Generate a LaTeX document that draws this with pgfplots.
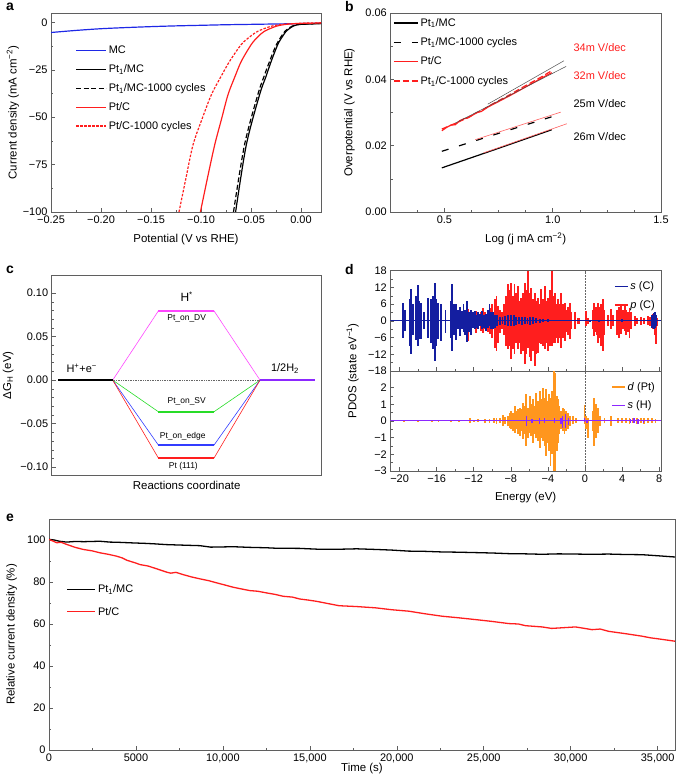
\documentclass[border=0pt]{standalone}
\usepackage{fontspec}
\setmainfont{Liberation Sans}
\setsansfont{Liberation Sans}
\usepackage{pgfplots}
\pgfplotsset{compat=1.18}
\usepackage{pgfplotstable}

\definecolor{mcblue}{RGB}{30,40,230}
\definecolor{ptred}{RGB}{255,30,30}
\definecolor{dvpink}{RGB}{255,70,255}
\definecolor{svgreen}{RGB}{40,220,40}
\definecolor{edgeblue}{RGB}{50,60,255}
\definecolor{hpurple}{RGB}{140,40,255}
\definecolor{scnavy}{RGB}{20,30,160}
\definecolor{dorange}{RGB}{255,150,30}
\definecolor{framegray}{RGB}{95,95,95}

% PDOS spikes, x = energy (eV), up / dn = spin up / spin down
\pgfplotstableread{
x up dn
-19.6 6.3 -6.0
-19.4 4 -3.5
-18.9 8 -9
-18.77 11.3 -12
-18.6 6 -5
-18.2 9 -7
-18.06 12.7 -9
-17.9 7 -6.6
-17.7 6.5 -6.6
-17.34 3 -3
-16.9 8.3 -6
-16.6 7.7 -7.8
-16.35 9 -10
-16.2 13.7 -14.4
-16.05 8 -9
-15.9 6.5 -6.6
-15.5 5.9 -7.2
-15.05 4 -4.2
-14.5 7 -6
-14.3 13.3 -11
-14.15 6 -5
-13.9 6 -7
-13.7 4 -3
-13.5 5 -5.5
-13.3 3.5 -3
-13.1 6 -4
-12.9 4 -5
-12.7 7 -7.5
-12.5 3 -4
-12.3 4 -5
-12.1 3 -2.5
-11.9 3.5 -3
-11.7 2 -2.5
-11.5 3 -3
-11.3 2.5 -2
-11.1 3.5 -3
-10.9 2 -2.5
-10.7 2.5 -3.5
-10.5 4 -2.5
-10.3 6 -2
-10.1 3 -3
-9.9 3 -3
-9.7 2 -2.5
-9.5 2 -2
-9.2 1.5 -1.5
-8.9 1.5 -1.2
-8.6 1.8 -1.5
-8.3 2 -2
-8.0 2 -2
-7.7 2.2 -1.8
-7.4 1.5 -1.5
-7.1 1.2 -1.2
-6.8 1.5 -1.5
-6.5 1.2 -1.0
-6.2 1.0 -1.2
-5.9 1.5 -1.5
-5.6 1.5 -1.2
-5.3 1.0 -0.8
-4.9 0.8 -0.6
-4.5 0.6 -0.5
-4.0 0.5 -0.5
0.5 0.4 -0.4
1.5 0.4 -0.4
4.0 0.5 -0.5
7.25 2 -2.5
7.4 2.8 -3
7.55 3 -2.5
7.7 2.2 -2
}\sCtab

\pgfplotstableread{
x up dn
-12.8 2 -3
-12.6 4.1 -7.2
-12.4 2.5 -3
-12.1 3 -2.5
-11.8 3.5 -4.2
-11.5 2.5 -3
-11.2 3 -3.5
-11.0 4.7 -4.2
-10.75 3 -3
-10.5 3.5 -4
-10.27 4.7 -4.8
-10.0 6 -6
-9.73 7.7 -9.6
-9.55 9 -11
-9.37 5.3 -7.8
-9.15 4 -4.5
-8.95 3 -3
-8.75 6 -5
-8.5 9 -9
-8.3 13.1 -10.2
-8.1 11 -9
-7.95 13.7 -13.8
-7.75 9 -10
-7.6 13.1 -12
-7.4 10 -8
-7.2 12.5 -10.2
-7.05 7 -8
-6.86 8.3 -12
-6.68 10 -11
-6.5 13.7 -15.6
-6.32 11 -12
-6.15 17.9 -9.6
-5.98 10 -13
-5.8 11.9 -14.4
-5.62 8 -11
-5.43 10.1 -16.2
-5.25 7 -12
-5.08 8.3 -11.4
-4.9 6 -8
-4.7 11.3 -8.4
-4.52 8 -9
-4.35 12.5 -10.2
-4.18 7 -8
-4.0 8.3 -10.8
-3.8 11 -9
-3.57 17.9 -9
-3.42 9 -8
-3.28 10.1 -7.8
-3.1 6 -6
-2.92 7.7 -7.8
-2.75 6 -6
-2.56 10.1 -9.6
-2.38 6 -6
-2.2 6.5 -7.2
-2.0 4 -4
-1.85 5 -5
-1.66 6.5 -6.6
-1.45 3 -3
-1.12 3 -3
-0.8 1 -1
-0.6 1 -1
0.13 3.5 -1.9
0.3 1 -1
0.85 4 -3
1.0 6.5 -5.4
1.15 5 -4
1.3 4 -5
1.45 6.5 -7.8
1.6 5 -6
1.75 6 -9
1.9 7.7 -11
2.05 4 -5
2.45 2 -2
2.8 4.1 -3
3.0 2 -2
3.5 4 -5
3.7 5 -6
3.9 5.3 -4.8
4.1 4 -3
4.27 5.9 -3.6
4.45 4 -5
4.6 3 -4
4.8 4.7 -6
5.0 3 -3
5.35 1.7 -1.9
5.6 1 -1
6.07 1.5 -1.5
6.4 1 -1
6.8 1.7 -1.5
7.0 1.5 -2
7.3 2.3 -3
7.5 2 -5
7.67 1.5 -8.4
7.8 1 -2
}\pCtab

\pgfplotstableread{
x up dn
-19.5 0.05 -0.05
-18.0 0.06 -0.05
-16.5 0.05 -0.05
-15.8 0.06 -0.06
-14.5 0.05 -0.05
-13.6 0.08 -0.06
-12.43 0.2 -0.14
-12.0 0.08 -0.08
-11.5 0.1 -0.08
-10.8 0.1 -0.1
-10.3 0.12 -0.1
-9.8 0.15 -0.15
-9.55 0.2 -0.2
-9.2 0.15 -0.15
-8.83 0.34 -0.3
-8.6 0.25 -0.2
-8.3 0.3 -0.3
-8.1 0.45 -0.4
-7.94 0.6 -0.5
-7.76 0.5 -0.6
-7.58 0.9 -0.7
-7.4 0.6 -0.5
-7.22 0.7 -0.8
-7.04 0.8 -0.9
-6.86 0.7 -0.6
-6.68 1.1 -1.1
-6.5 0.9 -0.8
-6.33 1.6 -1.5
-6.15 0.8 -1.0
-5.97 1.5 -0.7
-5.79 1.0 -0.9
-5.61 1.3 -1.3
-5.43 0.9 -0.8
-5.25 1.7 -1.0
-5.07 1.2 -1.2
-4.9 1.8 -1.6
-4.72 1.3 -1.0
-4.54 2.0 -1.2
-4.36 1.4 -1.5
-4.18 1.9 -2.1
-4.0 1.2 -1.3
-3.85 1.6 -1.8
-3.72 1.4 -2.7
-3.55 1.8 -2.0
-3.39 3.0 -3.0
-3.21 2.9 -3.0
-3.05 1.5 -1.8
-2.92 1.3 -1.3
-2.75 0.9 -0.8
-2.57 0.6 -0.5
-2.4 0.8 -0.6
-2.21 0.7 -0.8
-2.03 0.6 -0.6
-1.85 0.5 -0.5
-1.6 0.3 -0.3
-1.31 0.3 -0.2
-1.0 0.15 -0.1
-0.05 0.94 -0.2
0.12 0.3 -0.5
0.3 0.2 -1.0
0.85 0.6 -0.6
1.0 1.4 -1.5
1.15 1.0 -1.0
1.3 0.6 -0.5
1.45 0.8 -0.7
1.6 0.3 -0.3
2.1 0.15 -0.15
2.8 0.3 -0.3
3.6 0.15 -0.12
4.0 0.2 -0.15
4.4 0.15 -0.15
4.8 0.2 -0.2
5.2 0.2 -0.15
5.6 0.2 -0.2
6.0 0.15 -0.15
6.4 0.2 -0.2
6.8 0.15 -0.15
7.2 0.15 -0.12
7.6 0.1 -0.1
}\dPttab

\pgfplotstableread{
x up dn
-6.3 0.3 -0.3
-5.7 0.1 -0.1
-4.9 0.2 -0.2
-4.4 0.15 -0.15
-3.3 0.15 -0.15
-2.6 0.2 -0.2
-2.4 0.3 -0.4
-2.1 0.4 -0.4
-1.8 0.2 -0.25
-0.05 0.15 -0.05
0.2 0.05 -0.15
4.9 0.1 -0.1
5.3 0.15 -0.1
5.7 0.1 -0.2
6.3 0.05 -0.1
}\sHtab

\pgfplotsset{
  every axis/.append style={
    scale only axis,
    axis line style={framegray, line width=0.6pt},
    tick style={framegray, line width=0.5pt},
    major tick length=4bp, minor tick length=2.2bp,
    tick align=inside, tick pos=left,
    scaled ticks=false,
    tick label style={font=\fontsize{11}{13}\selectfont},
    label style={font=\fontsize{11.5}{13}\selectfont},
    legend cell align=left,
    legend image post style={line width=1.3pt},
    legend style={draw=none, fill=none, inner sep=0pt,
      font=\fontsize{11}{13}\selectfont},
  },
}

\begin{document}
\begin{tikzpicture}[x=1bp,y=1bp]
\path[use as bounding box] (0,0) rectangle (676,784);

% ---------- a ----------
\begin{axis}[at={(51bp,572bp)}, anchor=south west, width=270bp, height=199bp,
  xmin=-0.25, xmax=0.02, ymin=-100, ymax=5,
  xtick={-0.25,-0.2,-0.15,-0.1,-0.05,0},
  xticklabels={−0.25,−0.20,−0.15,−0.10,−0.05,0.00},
  ytick={-100,-75,-50,-25,0}, yticklabels={−100,−75,−50,−25,0},
  minor tick num=1,
  xlabel={Potential (V vs RHE)}, ylabel={Current density (mA cm\textsuperscript{−2})},
  xlabel style={at={(axis description cs:0.5,-0.136)}, anchor=center},
  ylabel style={at={(axis description cs:-0.141,0.5)}, anchor=center},
  legend image code/.code={\draw[#1] (0bp,0bp) -- (30bp,0bp);},
  legend style={at={(axis description cs:0.09,0.845)}, anchor=north west, row sep=5.5bp},
]
\addplot[mcblue, line width=1.2pt, smooth] coordinates {
(-0.25,-5.3) (-0.225,-4.2) (-0.2,-3.3) (-0.175,-2.7) (-0.15,-2.2) (-0.125,-1.8)
(-0.1,-1.5) (-0.075,-1.2) (-0.05,-1.0) (-0.025,-0.8) (0,-0.6) (0.02,-0.4)};
\addlegendentry{MC}
\addplot[black, line width=1.2pt, smooth, tension=0.5] coordinates {
(-0.0654,-100) (-0.0547,-64.6) (-0.0414,-38.1) (-0.035,-28.5) (-0.0298,-20.5)
(-0.0232,-11.6) (-0.019,-7.8) (-0.0148,-4.6) (-0.0115,-3.2) (-0.0082,-2.0)
(-0.004,-1.3) (0.0,-1.0) (0.01,-0.8) (0.02,-0.6)};
\addlegendentry{Pt\textsubscript{1}/MC}
\addplot[black, line width=1.2pt, dash pattern=on 5bp off 2.5bp, smooth, tension=0.5] coordinates {
(-0.0675,-100) (-0.0565,-64.6) (-0.0432,-38.1) (-0.037,-28.5) (-0.0314,-20.5)
(-0.0245,-11.6) (-0.016,-4.6) (-0.009,-2.0) (-0.005,-1.2) (0.0,-0.9) (0.02,-0.5)};
\addlegendentry{Pt\textsubscript{1}/MC-1000 cycles}
\addplot[ptred, line width=1.2pt, smooth, tension=0.5] coordinates {
(-0.1006,-100) (-0.0935,-82) (-0.0863,-64.6) (-0.0795,-51) (-0.073,-38.1)
(-0.066,-28.5) (-0.0597,-20.5) (-0.0497,-11.6) (-0.043,-7.5) (-0.0364,-4.6)
(-0.0248,-2.0) (-0.015,-1.0) (0,-0.5) (0.02,-0.3)};
\addlegendentry{Pt/C}
\addplot[ptred, line width=1.2pt, dash pattern=on 2.5bp off 1.5bp, smooth, tension=0.5] coordinates {
(-0.122,-100) (-0.115,-82) (-0.108,-64.6) (-0.099,-51) (-0.0896,-38.1)
(-0.080,-28.5) (-0.0714,-20.5) (-0.0597,-11.6) (-0.051,-7.5) (-0.043,-4.6)
(-0.0298,-2.0) (-0.018,-1.0) (0,-0.4) (0.02,-0.2)};
\addlegendentry{Pt/C-1000 cycles}
\end{axis}

% ---------- b ----------
\begin{axis}[at={(390.3bp,572bp)}, anchor=south west, width=270.7bp, height=199bp,
  xmin=0.25, xmax=1.5, ymin=0, ymax=0.06,
  xtick={0.5,1,1.5}, xticklabels={0.5,1.0,1.5},
  minor xtick={0.375,0.625,0.75,0.875,1.125,1.25,1.375},
  ytick={0,0.02,0.04,0.06}, yticklabels={0.00,0.02,0.04,0.06},
  minor ytick={0.01,0.03,0.05},
  xlabel={Log (j mA cm\textsuperscript{−2})}, ylabel={Overpotential (V vs RHE)},
  xlabel style={at={(axis description cs:0.5,-0.136)}, anchor=center},
  ylabel style={at={(axis description cs:-0.1515,0.5)}, anchor=center},
  legend image code/.code={\draw[#1] (0bp,0bp) -- (24bp,0bp);},
  legend style={at={(axis description cs:0.01,0.985)}, anchor=north west, row sep=6bp},
]
\addplot[black, line width=1.2pt] coordinates {(0.488,0.0133) (0.75,0.0192) (0.9956,0.0248)};
\addlegendentry{Pt\textsubscript{1}/MC}
\addplot[black, line width=1.2pt, dash pattern=on 7bp off 11bp] coordinates {(0.488,0.0183) (0.75,0.0237) (1.0,0.0288)};
\addlegendentry{Pt\textsubscript{1}/MC-1000 cycles}
\addplot[ptred, line width=1.2pt] coordinates {
(0.488,0.0245) (0.51,0.0255) (0.53,0.0262) (0.55,0.0263) (0.57,0.0275) (0.59,0.0281)
(0.61,0.0284) (0.63,0.0292) (0.65,0.0300) (0.67,0.0303) (0.70,0.0316) (0.72,0.0323)
(0.75,0.0333) (0.80,0.0350) (0.85,0.0368) (0.90,0.0386) (0.95,0.0404) (0.9956,0.0420)};
\addlegendentry{Pt/C}
\addplot[ptred, line width=1.2pt, dash pattern=on 6bp off 3bp] coordinates {
(0.488,0.0250) (0.52,0.0259) (0.56,0.0270) (0.60,0.0282) (0.64,0.0296) (0.68,0.0309)
(0.72,0.0325) (0.76,0.0339) (0.80,0.0353) (0.85,0.0372) (0.90,0.0390) (0.95,0.0408) (0.99,0.0424)};
\addlegendentry{Pt\textsubscript{1}/C-1000 cycles}
\addplot[black!70, line width=0.5pt] coordinates {(0.70,0.0325) (1.052,0.0456)};
\addplot[black!70, line width=0.5pt] coordinates {(0.55,0.0268) (1.062,0.0439)};
\addplot[ptred!70, line width=0.6pt] coordinates {(0.642,0.0218) (1.037,0.0301)};
\addplot[ptred!70, line width=0.6pt] coordinates {(0.68,0.0178) (1.065,0.0266)};
\node[anchor=west, text=ptred, font=\fontsize{11}{13}\selectfont] at (axis cs:1.08,0.0496) {34m V/dec};
\node[anchor=west, text=ptred, font=\fontsize{11}{13}\selectfont] at (axis cs:1.08,0.0411) {32m V/dec};
\node[anchor=west, font=\fontsize{11}{13}\selectfont] at (axis cs:1.08,0.0326) {25m V/dec};
\node[anchor=west, font=\fontsize{11}{13}\selectfont] at (axis cs:1.08,0.0228) {26m V/dec};
\end{axis}

% ---------- c ----------
\begin{axis}[at={(51.7bp,309bp)}, anchor=south west, width=270bp, height=199.3bp,
  xmin=155, xmax=965, ymin=-0.109, ymax=0.12,
  xtick=\empty,
  ytick={-0.1,-0.05,0,0.05,0.1}, yticklabels={−0.10,−0.05,0.00,0.05,0.10},
  minor y tick num=4,
  xlabel={Reactions coordinate}, ylabel={ΔG\textsubscript{H} (eV)},
  xlabel style={at={(axis description cs:0.5,-0.05)}, anchor=center},
  ylabel style={at={(axis description cs:-0.161,0.5)}, anchor=center},
]
\addplot[black!60, densely dotted, line width=0.7pt] coordinates {(338,0) (780,0)};
\addplot[dvpink, line width=0.6pt] coordinates {(338,0) (475,0.0795) (642,0.0795) (780,0)};
\addplot[dvpink, line width=1.6pt] coordinates {(475,0.0795) (642,0.0795)};
\addplot[svgreen, line width=0.6pt] coordinates {(338,0) (475,-0.0363) (642,-0.0363) (780,0)};
\addplot[svgreen, line width=1.6pt] coordinates {(475,-0.0363) (642,-0.0363)};
\addplot[edgeblue, line width=0.6pt] coordinates {(338,0) (475,-0.0746) (642,-0.0746) (780,0)};
\addplot[edgeblue, line width=1.6pt] coordinates {(475,-0.0746) (642,-0.0746)};
\addplot[ptred, line width=0.6pt] coordinates {(338,0) (475,-0.0895) (642,-0.0895) (780,0)};
\addplot[ptred, line width=1.6pt] coordinates {(475,-0.0895) (642,-0.0895)};
\addplot[black, line width=1.6pt] coordinates {(175,0) (338,0)};
\addplot[hpurple, line width=1.6pt] coordinates {(780,0) (945,0)};
\node[font=\fontsize{12}{14}\selectfont] at (axis cs:560,0.0956) {H\textsuperscript{*}};
\node[font=\fontsize{8.5}{10}\selectfont] at (axis cs:560,0.0707) {Pt\_on\_DV};
\node[font=\fontsize{8.5}{10}\selectfont] at (axis cs:560,-0.0249) {Pt\_on\_SV};
\node[font=\fontsize{8.5}{10}\selectfont] at (axis cs:548,-0.0642) {Pt\_on\_edge};
\node[font=\fontsize{8.5}{10}\selectfont] at (axis cs:550,-0.0987) {Pt (111)};
\node[font=\fontsize{11}{13}\selectfont] at (axis cs:245,0.0134) {H\textsuperscript{+}+e\textsuperscript{−}};
\node[font=\fontsize{11}{13}\selectfont] at (axis cs:855,0.0134) {1/2H\textsubscript{2}};
\end{axis}

% ---------- d (top) ----------
\begin{axis}[at={(390.3bp,413bp)}, anchor=south west, width=270.7bp, height=100.3bp,
  xmin=-21, xmax=8.2, ymin=-18, ymax=18,
  xtick={-20,-16,...,8}, xticklabels=\empty, minor x tick num=1,
  ytick={-18,-12,...,18}, yticklabels={−18,−12,−6,0,6,12,18},
  minor y tick num=1,
  legend image code/.code={\draw[#1] (0bp,0bp) -- (13bp,0bp);},
  legend style={at={(axis description cs:0.985,0.91)}, anchor=north east, row sep=5bp},
]
\addplot[black!60, densely dotted, line width=0.5pt, forget plot] coordinates {(0,-18) (0,18)};
\addlegendimage{scnavy, line width=1.2pt}
\addlegendentry{\textit{s} (C)}
\addlegendimage{ptred, line width=1.2pt}
\addlegendentry{\textit{p} (C)}
\addplot[ycomb, ptred, line width=1.9pt, forget plot] table[x=x, y=up] {\pCtab};
\addplot[ycomb, ptred, line width=1.9pt, forget plot] table[x=x, y=dn] {\pCtab};
\addplot[ycomb, scnavy, line width=1.9pt, forget plot] table[x=x, y=up] {\sCtab};
\addplot[ycomb, scnavy, line width=1.9pt, forget plot] table[x=x, y=dn] {\sCtab};
\addplot[scnavy, line width=1pt, forget plot] coordinates {(-21,0) (8.2,0)};
\end{axis}

% ---------- d (bottom) ----------
\begin{axis}[at={(390.3bp,313bp)}, anchor=south west, width=270.7bp, height=100bp,
  xmin=-21, xmax=8.2, ymin=-3, ymax=3,
  xtick={-20,-16,...,8}, xticklabels={−20,−16,−12,−8,−4,0,4,8}, minor x tick num=1,
  ytick={-3,-2,...,2}, yticklabels={−3,−2,−1,0,1,2},
  minor y tick num=1,
  xlabel={Energy (eV)}, ylabel={PDOS (state eV\textsuperscript{−1})},
  xlabel style={at={(axis description cs:0.5,-0.267)}, anchor=center},
  ylabel style={at={(axis description cs:-0.139,1)}, anchor=center},
  legend image code/.code={\draw[#1] (0bp,0bp) -- (13bp,0bp);},
  legend style={at={(axis description cs:0.985,0.91)}, anchor=north east, row sep=5bp},
]
\addplot[black!60, densely dotted, line width=0.5pt, forget plot] coordinates {(0,-3) (0,3)};
\addlegendimage{dorange, line width=1.2pt}
\addlegendentry{\textit{d} (Pt)}
\addlegendimage{hpurple, line width=1.2pt}
\addlegendentry{\textit{s} (H)}
\addplot[ycomb, dorange, line width=1.9pt, forget plot] table[x=x, y=up] {\dPttab};
\addplot[ycomb, dorange, line width=1.9pt, forget plot] table[x=x, y=dn] {\dPttab};
\addplot[ycomb, hpurple, line width=1.4pt, forget plot] table[x=x, y=up] {\sHtab};
\addplot[ycomb, hpurple, line width=1.4pt, forget plot] table[x=x, y=dn] {\sHtab};
\addplot[hpurple, line width=1pt, forget plot] coordinates {(-21,0) (8.2,0)};
\end{axis}

% ---------- e ----------
\begin{axis}[at={(49bp,34bp)}, anchor=south west, width=626bp, height=231bp,
  xmin=0, xmax=36000, ymin=0, ymax=110,
  xtick={0,5000,...,35000},
  xticklabels={0,5000,{10,000},{15,000},{20,000},{25,000},{30,000},{35,000}},
  ytick={0,20,...,100}, yticklabels={0,20,40,60,80,100}, minor tick num=1,
  xlabel={Time (s)}, ylabel={Relative current density (\%)},
  xlabel style={at={(axis description cs:0.5,-0.079)}, anchor=center},
  ylabel style={at={(axis description cs:-0.0596,0.5)}, anchor=center},
  legend image code/.code={\draw[#1] (0bp,0bp) -- (28bp,0bp);},
  legend style={at={(axis description cs:0.028,0.725)}, anchor=north west, row sep=9bp},
]
\addplot[black, line width=1.3pt] coordinates {
(0,100.3) (300,100) (600,99.4) (1015,99.0) (1500,99.3) (2000,99.2) (2931,99.4)
(3500,99.0) (4000,98.9) (4847,98.6) (5500,98.4) (6000,98.2) (6762,97.8) (7500,97.6)
(8678,97.3) (9300,96.6) (10000,96.7) (10594,96.8) (11500,96.5) (12510,96.3)
(13000,96.1) (14425,96.0) (15500,95.6) (16686,95.6) (17700,95.8) (18778,95.5)
(19700,95.2) (20694,94.7) (21600,94.6) (22610,94.3) (23500,94.2) (24525,94.0)
(25500,93.8) (26441,93.5) (27400,93.4) (28357,93.2) (29300,93.4) (30273,93.3)
(31200,93.2) (32188,93.3) (33100,93.1) (34104,93.0) (35000,92.5) (36000,91.9)};
\addlegendentry{Pt\textsubscript{1}/MC}
\addplot[ptred, line width=1.3pt] coordinates {
(0,100.3) (200,99.6) (441,98.7) (700,98.9) (1015,97.9) (1500,96.5) (1973,95.5)
(2500,94.8) (2931,93.9) (3400,93.2) (3889,92.3) (4200,91.5) (4464,90.4) (5000,89.0)
(5230,88.3) (5700,87.6) (6188,86.3) (6762,84.7) (7000,84.2) (7300,84.6) (7720,83.5)
(8200,82.4) (8678,81.5) (9200,80.6) (9636,79.6) (10100,78.6) (10594,77.5) (11000,76.8)
(11552,75.9) (12000,75.6) (12510,74.8) (13000,74.1) (13467,73.2) (14000,72.8)
(14425,71.9) (14900,71.4) (15383,70.8) (16000,69.8) (16686,68.7) (17700,68.3)
(18778,67.7) (19700,66.8) (20694,66.1) (21600,64.9) (22610,63.7) (23500,63.0)
(24525,62.1) (25500,61.2) (26441,60.2) (27000,60.0) (27399,59.2) (28357,58.6)
(28900,57.9) (29315,58.1) (30273,58.6) (30800,57.9) (31231,57.3) (31700,57.6)
(32188,56.5) (33146,55.4) (34104,54.2) (34600,53.4) (35062,52.9) (36000,51.8)};
\addlegendentry{Pt/C}
\end{axis}

% panel letters
\node[font=\bfseries\fontsize{14}{16}\selectfont] at (10,776.7) {a};
\node[font=\bfseries\fontsize{14}{16}\selectfont] at (349.3,777.3) {b};
\node[font=\bfseries\fontsize{14}{16}\selectfont] at (10,514) {c};
\node[font=\bfseries\fontsize{14}{16}\selectfont] at (349.3,514) {d};
\node[font=\bfseries\fontsize{14}{16}\selectfont] at (10,266.3) {e};
\end{tikzpicture}
\end{document}
